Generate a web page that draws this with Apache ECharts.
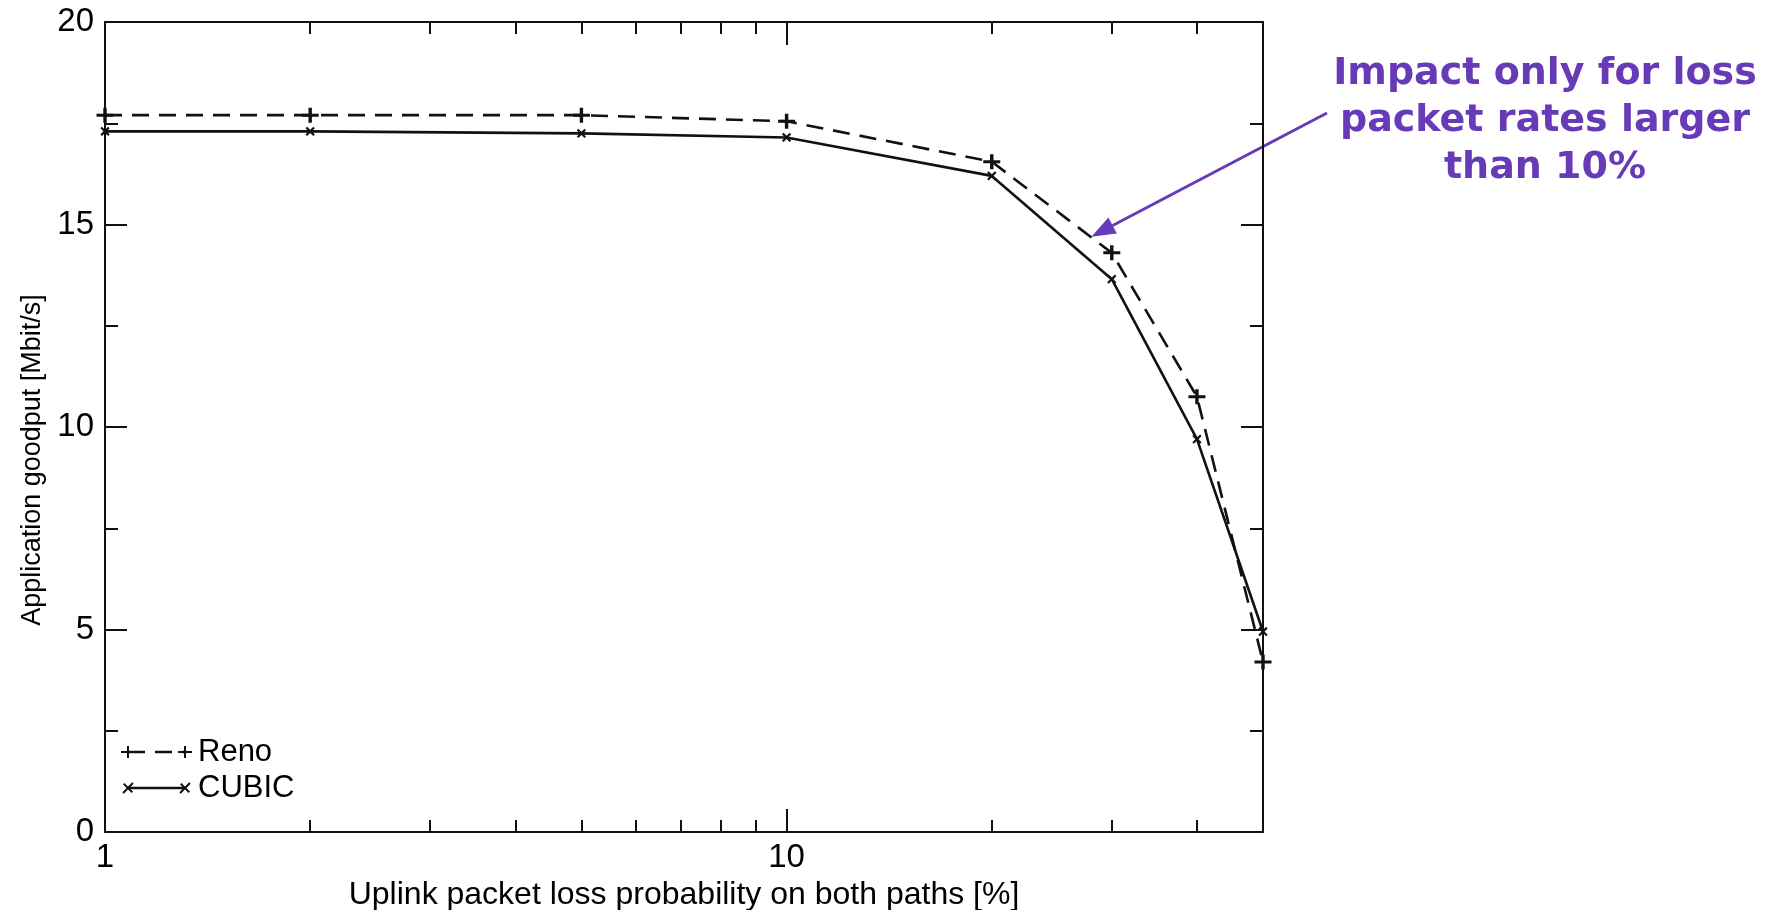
<!DOCTYPE html>
<html>
<head>
<meta charset="utf-8">
<script src="https://cdn.jsdelivr.net/npm/echarts@6/dist/echarts.min.js"></script>
<style>
    html, body { margin: 0; background: #fff; }
    #chart { width: 1775px; height: 910px; }
</style>
</head>
<body>
<div id="chart"></div>
<script>

// loss rate [%] on a log axis, goodput [Mbit/s]
const lossRates = [1, 2, 5, 10, 20, 30, 40, 50];
const renoGoodput = [17.7, 17.7, 17.7, 17.55, 16.55, 14.3, 10.75, 4.2];
const cubicGoodput = [17.3, 17.3, 17.25, 17.15, 16.2, 13.65, 9.7, 4.95];

const xMajorTicks = [1, 10];
const xMinorTicks = [2, 3, 4, 5, 6, 7, 8, 9, 20, 30, 40];
const annotationLines = ['Impact only for loss', 'packet rates larger', 'than 10%'];
const arrowTarget = [28, 14.7];

const INK = '#111';
const PURPLE = '#673ab7';
const FONT = '"Liberation Sans", Arial, sans-serif';

const plusPath = 'path://M4,0H6V4H10V6H6V10H4V6H0V4H4Z';

const chart = echarts.init(document.getElementById('chart'));

const xAxisBase = (position, ticks, length, showLine, showLabel) => ({
    type: 'log',
    logBase: 10,
    min: 1,
    max: 50,
    position: position,
    splitLine: { show: false },
    axisLine: { show: showLine, lineStyle: { color: INK, width: 2 } },
    axisTick: {
        show: true,
        inside: true,
        length: length,
        customValues: ticks,
        lineStyle: { color: INK, width: 2 },
    },
    axisLabel: {
        show: showLabel,
        customValues: ticks,
        margin: 9,
        color: '#000',
        fontFamily: FONT,
        fontSize: 33,
    },
});

const yAxisBase = (position, showLabel) => ({
    type: 'value',
    min: 0,
    max: 20,
    interval: 5,
    position: position,
    splitLine: { show: false },
    axisLine: { show: true, lineStyle: { color: INK, width: 2 } },
    axisTick: { inside: true, length: 22, lineStyle: { color: INK, width: 2 } },
    minorTick: { show: true, splitNumber: 2, length: 13, lineStyle: { color: INK, width: 2 } },
    axisLabel: {
        show: showLabel,
        margin: 11,
        color: '#000',
        fontFamily: FONT,
        fontSize: 33,
    },
});

const bottomAxis = xAxisBase('bottom', xMajorTicks, 23, true, true);
bottomAxis.name = 'Uplink packet loss probability on both paths [%]';
bottomAxis.nameLocation = 'middle';
bottomAxis.nameGap = 41;
bottomAxis.nameTextStyle = { color: '#000', fontFamily: FONT, fontSize: 32 };

const leftAxis = yAxisBase('left', true);
leftAxis.name = 'Application goodput [Mbit/s]';
leftAxis.nameLocation = 'middle';
leftAxis.nameGap = 57;
leftAxis.nameTextStyle = { color: '#000', fontFamily: FONT, fontSize: 27, padding: [0, 66, 0, 0] };

chart.setOption({
    animation: false,
    backgroundColor: '#fff',
    grid: { left: 105, right: 512, top: 22, bottom: 78, outerBoundsMode: 'none' },
    xAxis: [
        bottomAxis,
        xAxisBase('bottom', xMinorTicks, 12, false, false),
        xAxisBase('top', xMajorTicks, 23, true, false),
        xAxisBase('top', xMinorTicks, 12, false, false),
    ],
    yAxis: [
        leftAxis,
        yAxisBase('right', false),
    ],
    series: [
        {
            name: 'Reno',
            type: 'line',
            clip: false,
            data: lossRates.map((x, i) => [x, renoGoodput[i]]),
            symbol: plusPath,
            symbolSize: [17, 15],
            itemStyle: { color: INK },
            lineStyle: { color: INK, width: 2.6, type: [17, 10] },
            z: 5,
        },
        {
            name: 'CUBIC',
            type: 'line',
            clip: false,
            data: lossRates.map((x, i) => [x, cubicGoodput[i]]),
            symbol: plusPath,
            symbolSize: 11,
            symbolRotate: 45,
            itemStyle: { color: INK },
            lineStyle: { color: INK, width: 2.6 },
            z: 5,
        },
    ],
});

// arrow from the note down to the curves
const tip = chart.convertToPixel({ xAxisIndex: 0, yAxisIndex: 0 }, arrowTarget);
const start = [1327, 113];
const dx = tip[0] - start[0];
const dy = tip[1] - start[1];
const len = Math.sqrt(dx * dx + dy * dy);
const ux = dx / len, uy = dy / len;
const headLen = 24, headHalf = 9;
const base = [tip[0] - ux * headLen, tip[1] - uy * headLen];

const legendItem = (y, dashed, rotate, label) => ({
    type: 'group',
    children: [
        {
            type: 'line',
            shape: { x1: 128, y1: y, x2: 185, y2: y },
            style: { stroke: INK, lineWidth: 2.4, lineDash: dashed ? [17, 10] : null },
        },
        ...[128, 185].map((cx) => ({
            type: 'group',
            x: cx,
            y: y,
            rotation: rotate,
            children: [
                { type: 'line', shape: { x1: -7, y1: 0, x2: 7, y2: 0 }, style: { stroke: INK, lineWidth: 2 } },
                { type: 'line', shape: { x1: 0, y1: -6, x2: 0, y2: 6 }, style: { stroke: INK, lineWidth: 2 } },
            ],
        })),
        {
            type: 'text',
            x: 198,
            y: y,
            style: {
                text: label,
                fill: '#000',
                font: '31px ' + FONT,
                verticalAlign: 'middle',
            },
        },
    ],
});

chart.setOption({
    graphic: [
        legendItem(752, true, 0, 'Reno'),
        legendItem(788, false, Math.PI / 4, 'CUBIC'),
        {
            type: 'text',
            x: 1545,
            y: 51,
            style: {
                text: annotationLines.join('\n'),
                fill: PURPLE,
                font: 'bold 38px "DejaVu Sans", Verdana, sans-serif',
                align: 'center',
                verticalAlign: 'top',
                lineHeight: 47,
            },
        },
        {
            type: 'line',
            shape: { x1: start[0], y1: start[1], x2: base[0], y2: base[1] },
            style: { stroke: PURPLE, lineWidth: 3 },
        },
        {
            type: 'polygon',
            shape: {
                points: [
                    tip,
                    [base[0] - uy * headHalf, base[1] + ux * headHalf],
                    [base[0] + uy * headHalf, base[1] - ux * headHalf],
                ],
            },
            style: { fill: PURPLE },
        },
    ],
});

</script>
</body>
</html>
